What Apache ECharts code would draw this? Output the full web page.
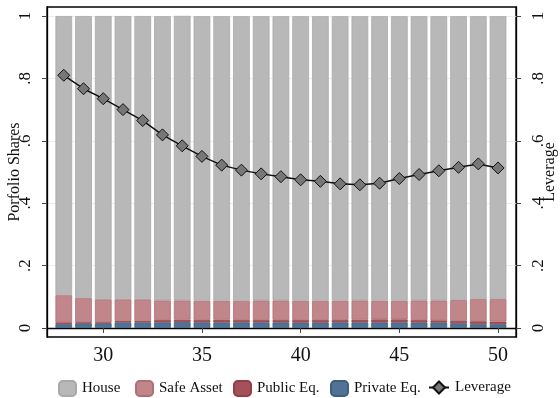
<!DOCTYPE html>
<html>
<head>
<meta charset="utf-8">
<script src="https://cdn.jsdelivr.net/npm/echarts@6/dist/echarts.min.js"></script>
<style>html,body{margin:0;padding:0;background:#fff;}#c{width:560px;height:398px;}</style>
</head>
<body>
<div id="c"></div>
<script>
const ages = [28,29,30,31,32,33,34,35,36,37,38,39,40,41,42,43,44,45,46,47,48,49,50];
const privateEq = [0.012,0.015,0.015,0.018,0.018,0.018,0.019,0.018,0.018,0.018,0.018,0.018,0.017,0.017,0.018,0.018,0.018,0.018,0.017,0.017,0.015,0.012,0.012];
const publicEq  = [0.006,0.003,0.003,0.004,0.004,0.0075,0.0075,0.0075,0.0085,0.0075,0.0075,0.0075,0.0085,0.0085,0.0075,0.0085,0.0095,0.0095,0.0085,0.0075,0.0075,0.0095,0.0085];
const safeAsset = [0.087,0.078,0.074,0.070,0.070,0.063,0.062,0.062,0.061,0.061,0.063,0.063,0.062,0.062,0.062,0.062,0.060,0.060,0.063,0.064,0.067,0.071,0.072];
const house     = [0.895,0.904,0.908,0.908,0.908,0.911,0.912,0.912,0.912,0.913,0.911,0.911,0.912,0.912,0.912,0.911,0.912,0.912,0.911,0.911,0.910,0.907,0.907];
const leverage  = [0.810,0.767,0.735,0.700,0.665,0.619,0.584,0.550,0.522,0.506,0.494,0.485,0.475,0.470,0.462,0.459,0.464,0.479,0.492,0.504,0.515,0.526,0.513];
const xTicks = [30,35,40,45,50];
const yTicks = [0,0.2,0.4,0.6,0.8,1];
const yTickLabels = ['0','.2','.4','.6','.8','1'];

const FONT = 'Liberation Serif';
// value first, age second, so the stack is computed on the value dimension
const pairVY = arr => ages.map((a,i)=>[arr[i],a]);
const fmtY = v => { const i = yTicks.findIndex(t=>Math.abs(t-v)<1e-6); return i>=0 ? yTickLabels[i] : ''; };

const chart = echarts.init(document.getElementById('c'), null, {renderer:'canvas'});
const yAxisBase = (pos, margin, name, gap) => ({
  type:'value', position:pos, min:-0.029, max:1.029,
  name:name, nameLocation:'middle', nameRotate:90, nameGap:gap, nameMoveOverlap:false,
  nameTextStyle:{fontFamily:FONT, fontSize:16, color:'#111'},
  axisLine:{show:true, lineStyle:{color:'#000', width:1.3}},
  axisTick:{show:true, inside:false, length:5, customValues:yTicks, lineStyle:{color:'#444', width:1}},
  axisLabel:{show:true, customValues:yTicks, rotate:90, margin:margin, formatter:fmtY,
    fontFamily:FONT, fontSize:17, color:'#111'},
  splitLine:{show: pos==='left', lineStyle:{color:'#e6eef0', width:1}}
});
const barSeries = (name, data, color, border) => ({
  name, type:'bar', stack:'s', xAxisIndex:0, yAxisIndex:0, barWidth:16.7,
  data: pairVY(data), encode:{x:1, y:0},
  itemStyle:{color, borderColor:border, borderWidth:0.8},
  emphasis:{disabled:true}, silent:true, z:2
});
const legendAt = (name, left, w) => ({
  data:[name], left:left, top:380, padding:0, itemWidth:w, itemHeight:15, selectedMode:false,
  textStyle:{fontFamily:FONT, fontSize:15, color:'#111', padding:[0,0,0,1]}
});

chart.setOption({
  animation:false,
  backgroundColor:'#fff',
  grid:{left:47, right:44, top:7, bottom:61, containLabel:false, outerBoundsMode:'none',
    show:true, borderColor:'#000', borderWidth:1.3, backgroundColor:'#fff'},
  xAxis:[{
    type:'value', min:27.15, max:50.91,
    axisLine:{show:true, lineStyle:{color:'#000', width:1.3}},
    axisTick:{show:true, length:5, customValues:xTicks, lineStyle:{color:'#444'}},
    axisLabel:{show:true, customValues:xTicks, margin:9, fontFamily:FONT, fontSize:20, color:'#111'},
    splitLine:{show:false}
  }],
  yAxis:[ yAxisBase('left', 13, 'Porfolio Shares', 24), yAxisBase('right', 14, 'Leverage', 26) ],
  legend:[
    legendAt('House', 58, 17),
    legendAt('Safe Asset', 135, 17),
    legendAt('Public Eq.', 233, 17),
    legendAt('Private Eq.', 330, 17),
    legendAt('Leverage', 428, 20)
  ],
  series:[
    barSeries('Private Eq.', privateEq, '#4f7296', '#3f5f80'),
    barSeries('Public Eq.', publicEq, '#a5515a', '#8f3f48'),
    barSeries('Safe Asset', safeAsset, '#c1868a', '#b06f74'),
    barSeries('House', house, '#b8b8b8', '#a9a9a9'),
    {
      name:'Leverage', type:'line', xAxisIndex:0, yAxisIndex:1, data:ages.map((a,i)=>[a,leverage[i]]),
      symbol:'diamond', symbolSize:[12,12], z:5,
      lineStyle:{color:'#111', width:1.5},
      itemStyle:{color:'#777', borderColor:'#111', borderWidth:1},
      emphasis:{disabled:true}, silent:true
    }
  ]
});
</script>
</body>
</html>
